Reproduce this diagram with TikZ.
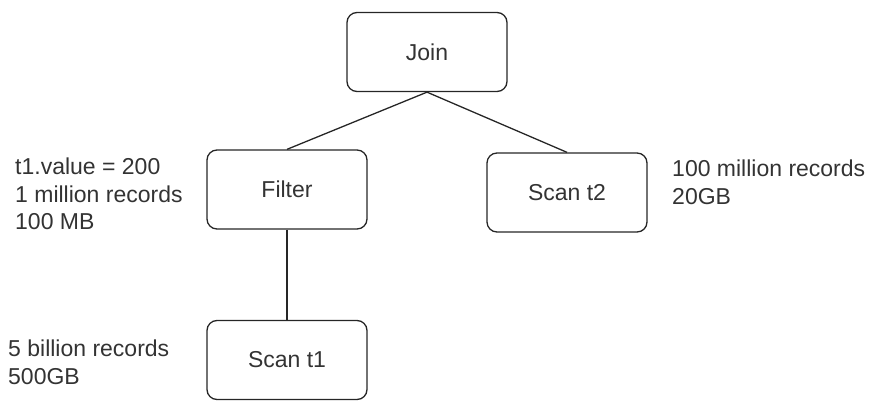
\documentclass[tikz,border=0pt]{standalone}
\usepackage{fontspec}
\setmainfont{Liberation Sans}
\definecolor{txt}{RGB}{51,51,51}
\begin{document}
\begin{tikzpicture}[x=1pt,y=-1pt,
  opbox/.style={draw=black!85, line width=1.3pt, rounded corners=10pt, minimum width=160pt, minimum height=79pt, inner sep=0pt, text=txt, font=\fontsize{23}{27.5}\selectfont},
  note/.style={anchor=north west, inner sep=0pt, align=left, text=txt, font=\fontsize{23}{27.5}\selectfont},
  link/.style={draw=black!85, line width=1.3pt}]
\useasboundingbox (0,0) rectangle (874,401);
\node[opbox] (join) at (427,52) {Join};
\node[opbox] (filter) at (287,189.5) {Filter};
\node[opbox] (scantwo) at (567,192.5) {Scan t2};
\node[opbox] (scanone) at (287,360) {Scan t1};
\draw[link] (join.south) -- (filter.north);
\draw[link] (join.south) -- (scantwo.north);
\draw[link] (filter.south) -- (scanone.north);
\node[note] (fnote) at (15,158) {t1.value = 200\\1 million records\\100 MB};
\node[note] (t2note) at (672,160) {100 million records\\20GB};
\node[note] (t1note) at (8,340) {5 billion records\\500GB};
\end{tikzpicture}
\end{document}
